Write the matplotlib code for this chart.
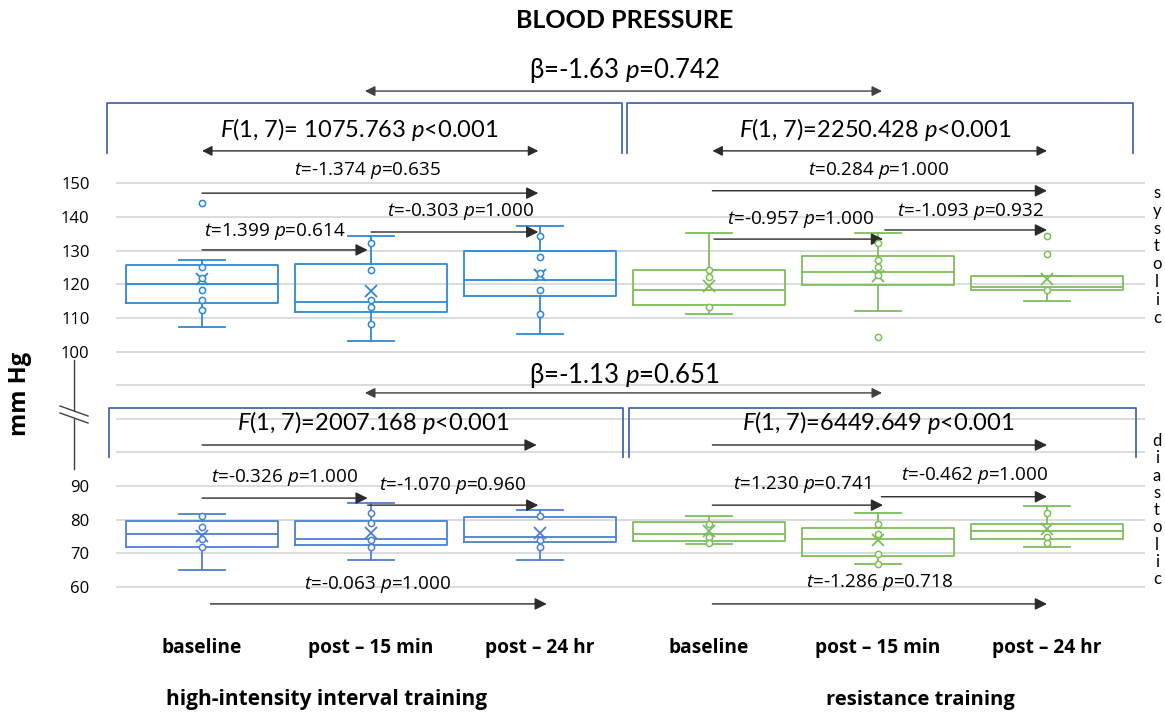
import matplotlib
matplotlib.use('Agg')
import matplotlib.pyplot as plt
from matplotlib.lines import Line2D

plt.rcParams['font.family'] = ['Open Sans', 'DejaVu Sans']
plt.rcParams['mathtext.fontset'] = 'custom'
plt.rcParams['mathtext.it'] = 'Open Sans:italic'
plt.rcParams['mathtext.rm'] = 'Open Sans'
plt.rcParams['mathtext.sf'] = 'Lato:italic'

# ------------------------------------------------------------------ #
#   data
# ------------------------------------------------------------------ #
groups = ['high-intensity interval training', 'resistance training']
times = ['baseline', 'post – 15 min', 'post – 24 hr']

# systolic, order: HIIT base/15/24, RT base/15/24
sys_whislo = [107.3, 103.3, 105.2, 111.3, 112.1, 115.2]
sys_q1 = [114.4, 111.9, 116.5, 114.0, 119.7, 118.3]
sys_med = [120.2, 114.7, 121.3, 118.3, 123.6, 119.1]
sys_q3 = [125.7, 126.1, 129.8, 124.3, 128.4, 122.5]
sys_whishi = [127.2, 134.2, 137.2, 135.1, 135.1, 122.5]
sys_mean = [121.6, 118.1, 122.7, 119.6, 122.5, 121.7]
sys_points = [[144.2, 125.2, 121.8, 118.3, 115.4, 112.3],
              [132.2, 124.3, 115.3, 113.3, 108.3],
              [134.3, 128.2, 123.3, 118.3, 111.3],
              [124.3, 122.1, 113.2],
              [132.2, 127.2, 125.2, 122.7, 104.3],
              [134.2, 129.1, 118.3]]

# diastolic
dia_whislo = [64.9, 67.9, 67.9, 72.8, 66.9, 71.8]
dia_q1 = [71.8, 72.5, 73.3, 73.6, 69.2, 74.3]
dia_med = [75.8, 74.3, 74.9, 75.8, 74.3, 76.7]
dia_q3 = [79.5, 79.7, 80.9, 79.2, 77.4, 78.8]
dia_whishi = [81.8, 85.0, 82.9, 81.0, 81.9, 84.0]
dia_mean = [75.1, 76.1, 75.9, 76.7, 73.9, 77.1]
dia_points = [[81.0, 77.9, 74.1, 71.8],
              [81.9, 78.9, 73.9, 71.8],
              [81.0, 73.9, 71.8],
              [78.8, 74.9, 72.9],
              [78.8, 75.8, 69.9, 66.9],
              [82.0, 74.9, 72.9]]

# statistics text
sys_beta = r'β=-1.63 $\mathsf{p}$=0.742'
dia_beta = r'β=-1.13 $\mathsf{p}$=0.651'
sys_F = [r'$\mathsf{F}$(1, 7)= 1075.763 $\mathsf{p}$<0.001', r'$\mathsf{F}$(1, 7)=2250.428 $\mathsf{p}$<0.001']
dia_F = [r'$\mathsf{F}$(1, 7)=2007.168 $\mathsf{p}$<0.001', r'$\mathsf{F}$(1, 7)=6449.649 $\mathsf{p}$<0.001']
# pairwise t: (base->24h, base->15, 15->24) for each group
sys_t = [[r'$t$=-1.374 $p$=0.635', r'$t$=1.399 $p$=0.614', r'$t$=-0.303 $p$=1.000'],
         [r'$t$=0.284 $p$=1.000', r'$t$=-0.957 $p$=1.000', r'$t$=-1.093 $p$=0.932']]
dia_t = [[r'$t$=-0.063 $p$=1.000', r'$t$=-0.326 $p$=1.000', r'$t$=-1.070 $p$=0.960'],
         [r'$t$=-1.286 $p$=0.718', r'$t$=1.230 $p$=0.741', r'$t$=-0.462 $p$=1.000']]

blue_sys = '#2E88D6'
blue_dia = '#4D7FD4'
green = '#7DBE5A'
frame = '#4468B0'
arr_c = '#2b2b2b'

W, H = 1165, 715
fig = plt.figure(figsize=(W / 100, H / 100), dpi=100)


def px(x):
    return x / W


def py(y):
    return 1 - y / H


ax1 = fig.add_axes([px(116), py(360), px(1029), 360 / H])
ax2 = fig.add_axes([px(116), py(630), px(1029), 270 / H])
ax1.set_ylim(97.63, 204.14)
ax2.set_ylim(47.14, 127.5)
for ax in (ax1, ax2):
    ax.set_xlim(-0.509, 5.58)
    ax.patch.set_visible(False)
    for s in ax.spines.values():
        s.set_visible(False)
    ax.tick_params(length=0, labelsize=12, pad=19)
    ax.yaxis.grid(True, color='#D9D9D9', lw=1.3)
    ax.set_axisbelow(True)

ax1.set_yticks(range(100, 151, 10))
ax1.set_xticks([])
ax2.set_yticks(range(60, 121, 10))
ax2.set_yticklabels(['60', '70', '80', '90', '', '', ''])
ax2.set_xticks(range(6))
ax2.set_xticklabels(times * 2, fontweight='bold', fontsize=13.8)
ax2.tick_params(axis='x', pad=6)


def draw_boxes(ax, lo, q1, med, q3, hi, mean, pts):
    for i in range(6):
        c = (blue_sys if ax is ax1 else blue_dia) if i < 3 else green
        st = [dict(whislo=lo[i], q1=q1[i], med=med[i], q3=q3[i], whishi=hi[i],
                   mean=mean[i], fliers=[])]
        ax.bxp(st, positions=[i], widths=0.905, capwidths=0.27, showmeans=True,
               showfliers=False, manage_ticks=False,
               boxprops=dict(color=c, lw=1.3), whiskerprops=dict(color=c, lw=1.3),
               capprops=dict(color=c, lw=1.3), medianprops=dict(color=c, lw=1.3),
               meanprops=dict(marker='x', markeredgecolor=c, markersize=9, mew=1.3))
        ax.plot([i] * len(pts[i]), pts[i], 'o', ms=4.5, mfc='white', mec=c, mew=1.1, zorder=4)


draw_boxes(ax1, sys_whislo, sys_q1, sys_med, sys_q3, sys_whishi, sys_mean, sys_points)
draw_boxes(ax2, dia_whislo, dia_q1, dia_med, dia_q3, dia_whishi, dia_mean, dia_points)


def arrow(ax, x0, x1, y, both=False, c=arr_c):
    if both:
        style = '<|-|>,head_length=0.5,head_width=0.25'
    else:
        style = '-|>,head_length=0.6,head_width=0.3'
    ax.annotate('', xy=(x1, y), xytext=(x0, y),
                arrowprops=dict(arrowstyle=style, color=c, lw=1.0, mutation_scale=12,
                                shrinkA=0, shrinkB=0), annotation_clip=False)


def label(ax, x, y, s, size=13.6, family=None):
    ax.text(x, y, s, ha='center', va='center', fontsize=size, color='black',
            family=family or ['Open Sans', 'DejaVu Sans'], clip_on=False)


def bracket(ax, xl, m1, m2, xr, ytop, ybot):
    ax.plot([xl, xl, m1, m1], [ybot, ytop, ytop, ybot], color=frame, lw=1.3, clip_on=False)
    ax.plot([m2, m2, xr, xr], [ybot, ytop, ytop, ybot], color=frame, lw=1.3, clip_on=False)


lato = ['Lato', 'DejaVu Sans']
f_size = 17

# systolic annotations
label(ax1, 2.5, 183.4, sys_beta, 18.5, lato)
arrow(ax1, 0.964, 4.024, 177.2, both=True, c='#404040')
bracket(ax1, -0.560, 2.485, 2.513, 5.511, 173.8, 159.0)
label(ax1, 0.93, 165.7, sys_F[0], f_size, lato)
label(ax1, 3.98, 165.7, sys_F[1], f_size, lato)
arrow(ax1, 0, 1.99, 159.5, both=True)
arrow(ax1, 3.02, 5.0, 159.5, both=True)
label(ax1, 0.98, 153.8, sys_t[0][0])
arrow(ax1, 0, 1.99, 147.0)
label(ax1, 0.43, 135.6, sys_t[0][1])
arrow(ax1, 0, 0.98, 130.2)
label(ax1, 1.53, 141.5, sys_t[0][2])
arrow(ax1, 1.0, 1.99, 135.5)
label(ax1, 4.0, 153.8, sys_t[1][0])
arrow(ax1, 3.02, 5.0, 147.7)
label(ax1, 3.54, 139.1, sys_t[1][1])
arrow(ax1, 3.03, 4.03, 133.4)
label(ax1, 4.55, 141.7, sys_t[1][2])
arrow(ax1, 4.04, 5.0, 136.1)

# diastolic annotations
label(ax2, 2.5, 123.0, dia_beta, 18.5, lato)
arrow(ax2, 0.964, 4.024, 117.7, both=True, c='#404040')
bracket(ax2, -0.549, 2.493, 2.525, 5.527, 113.2, 98.5)
label(ax2, 1.01, 108.75, dia_F[0], f_size, lato)
label(ax2, 4.0, 108.75, dia_F[1], f_size, lato)
arrow(ax2, 0, 1.98, 102.2)
arrow(ax2, 3.02, 5.0, 102.2)
label(ax2, 1.04, 60.8, dia_t[0][0])
arrow(ax2, 0.05, 2.04, 54.9)
label(ax2, 0.49, 92.4, dia_t[0][1])
arrow(ax2, 0, 0.98, 86.4)
label(ax2, 1.48, 90.1, dia_t[0][2])
arrow(ax2, 0.98, 1.99, 84.3)
label(ax2, 4.01, 61.3, dia_t[1][0])
arrow(ax2, 3.02, 5.0, 54.9)
label(ax2, 3.55, 90.3, dia_t[1][1])
arrow(ax2, 3.02, 4.03, 84.3)
label(ax2, 4.57, 93.1, dia_t[1][2])
arrow(ax2, 4.02, 5.0, 86.8)

# titles and labels
fig.text(px(625), py(20), 'BLOOD PRESSURE', ha='center', va='center', fontsize=18,
         fontweight='bold', family=lato)
fig.text(px(20), py(394), 'mm Hg', ha='center', va='center', rotation=90, fontsize=17,
         fontweight='bold')
fig.text(px(327), py(700), groups[0], ha='center', va='center', fontsize=15, fontweight='bold')
fig.text(px(920), py(700), groups[1], ha='center', va='center', fontsize=14.5, fontweight='bold')

for k, ch in enumerate('systolic'):
    fig.text(px(1157), py(198 + 17.8 * k), ch, ha='center', va='baseline', fontsize=12, family=lato)
for k, ch in enumerate('diastolic'):
    fig.text(px(1157), py(446 + 17.3 * k), ch, ha='center', va='baseline', fontsize=12, family=lato)

# axis break on the left
lc = '#404040'
fig.add_artist(Line2D([px(74), px(74)], [py(360), py(410)], color=lc, lw=1))
fig.add_artist(Line2D([px(74), px(74)], [py(419), py(469)], color=lc, lw=1))
fig.add_artist(Line2D([px(60), px(88)], [py(406), py(416)], color=lc, lw=1))
fig.add_artist(Line2D([px(60), px(88)], [py(413), py(423)], color=lc, lw=1))

plt.savefig('out.png', dpi=100)
